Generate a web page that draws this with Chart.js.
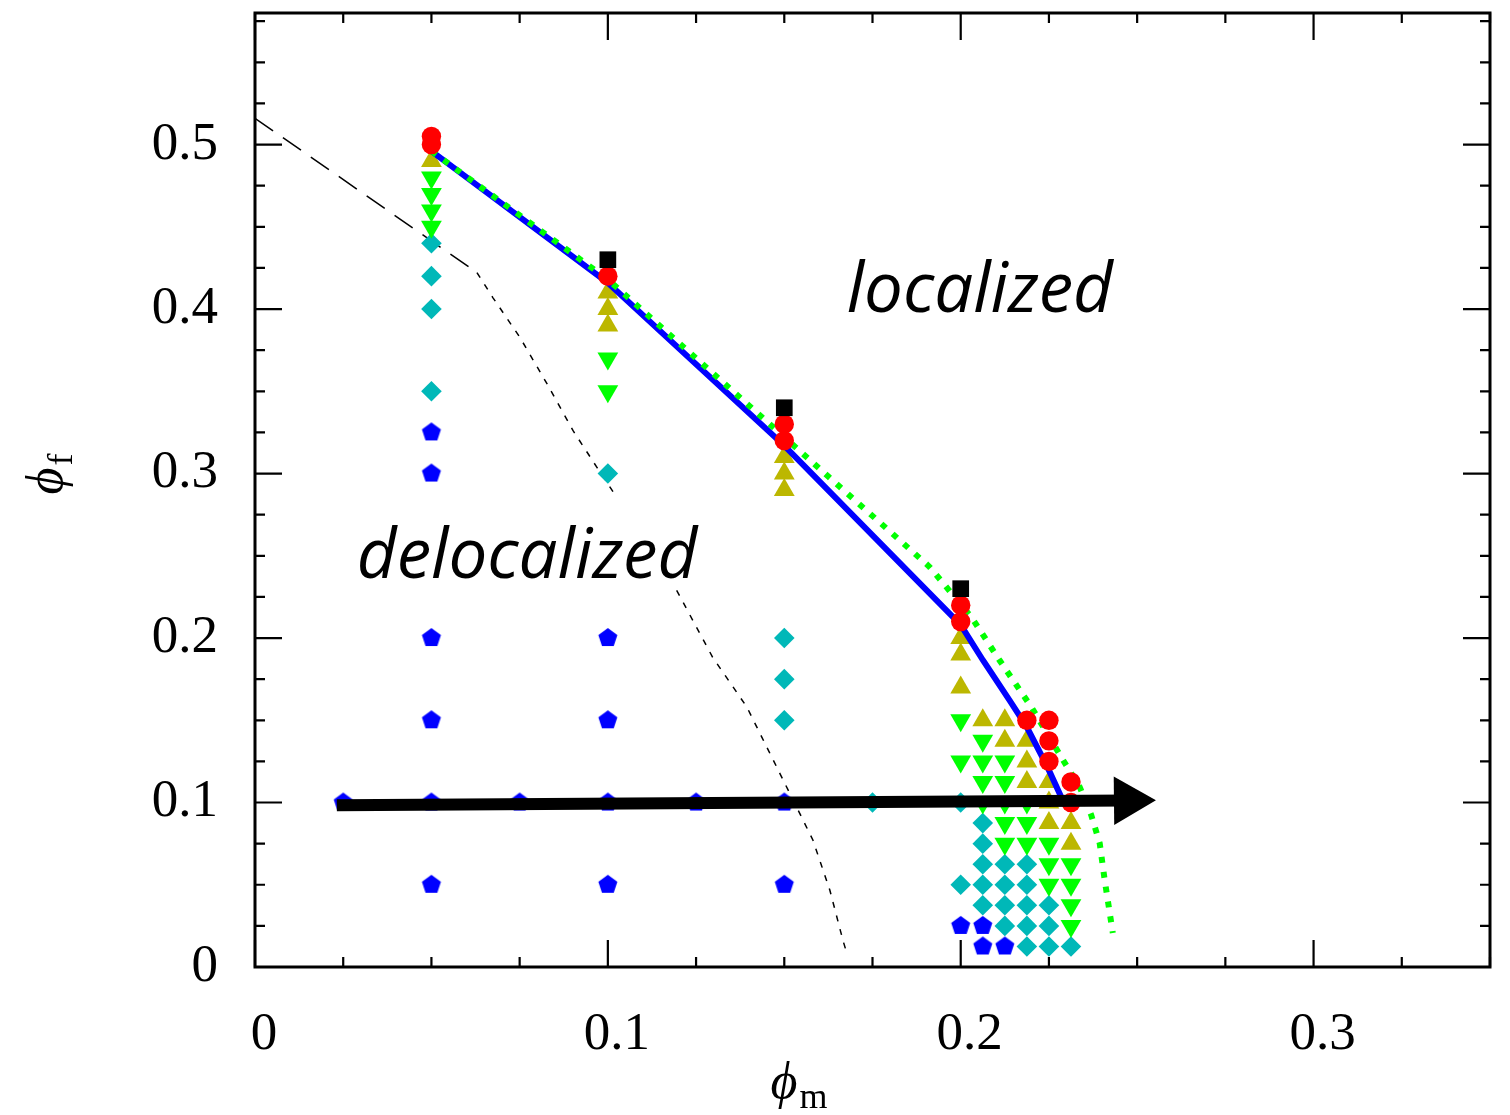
<!DOCTYPE html>
<html>
<head>
<meta charset="utf-8">
<script src="https://cdn.jsdelivr.net/npm/chart.js@4.4.1/dist/chart.umd.min.js"></script>
<style>
  html, body { margin: 0; padding: 0; background: #fff; }
  #wrap { width: 1510px; height: 1115px; }
</style>
</head>
<body>
<div id="wrap"><canvas id="phase" width="1510" height="1115"></canvas></div>
<script>
// tick labels
const xTicks = [0, 0.1, 0.2, 0.3];
const yTicks = [0, 0.1, 0.2, 0.3, 0.4, 0.5];

// black squares
const squareX = [0.1, 0.15, 0.2];
const squareY = [0.43, 0.34, 0.23];

// red circles
const circleX = [0.05, 0.05, 0.1, 0.15, 0.15, 0.2, 0.2, 0.21875, 0.225, 0.225, 0.225, 0.23125, 0.23125];
const circleY = [0.505, 0.5, 0.42, 0.33, 0.32, 0.22, 0.21, 0.15, 0.15, 0.1375, 0.125, 0.1125, 0.1];

// olive up triangles
const upX = [0.05, 0.1, 0.1, 0.1, 0.15, 0.15, 0.15, 0.2, 0.2, 0.2,
  0.20625, 0.2125, 0.2125, 0.21875, 0.21875, 0.21875,
  0.225, 0.225, 0.225, 0.23125, 0.23125];
const upY = [0.49, 0.41, 0.4, 0.39, 0.31, 0.3, 0.29, 0.2, 0.19, 0.17,
  0.15, 0.15, 0.1375, 0.1375, 0.125, 0.1125,
  0.1125, 0.1, 0.0875, 0.0875, 0.075];

// green down triangles
const downX = [0.05, 0.05, 0.05, 0.05, 0.1, 0.1, 0.2, 0.2,
  0.20625, 0.20625, 0.20625, 0.20625,
  0.2125, 0.2125, 0.2125, 0.2125, 0.2125,
  0.21875, 0.21875, 0.21875,
  0.225, 0.225, 0.225,
  0.23125, 0.23125, 0.23125, 0.23125];
const downY = [0.48, 0.47, 0.46, 0.45, 0.37, 0.35, 0.15, 0.125,
  0.1375, 0.125, 0.1125, 0.1,
  0.125, 0.1125, 0.1, 0.0875, 0.075,
  0.1, 0.0875, 0.075,
  0.075, 0.0625, 0.05,
  0.0625, 0.05, 0.0375, 0.025];

// cyan diamonds
const diamondX = [0.05, 0.05, 0.05, 0.05, 0.1, 0.15, 0.15, 0.15, 0.175, 0.2, 0.2,
  0.20625, 0.20625, 0.20625, 0.20625, 0.20625,
  0.2125, 0.2125, 0.2125, 0.2125,
  0.21875, 0.21875, 0.21875, 0.21875, 0.21875,
  0.225, 0.225, 0.225, 0.23125];
const diamondY = [0.44, 0.42, 0.4, 0.35, 0.3, 0.2, 0.175, 0.15, 0.1, 0.1, 0.05,
  0.0875, 0.075, 0.0625, 0.05, 0.0375,
  0.0625, 0.05, 0.0375, 0.025,
  0.0625, 0.05, 0.0375, 0.025, 0.0125,
  0.0375, 0.025, 0.0125, 0.0125];

// blue pentagons
const pentX = [0.05, 0.05, 0.05, 0.05, 0.05, 0.05, 0.025, 0.075, 0.1, 0.1, 0.1, 0.1, 0.125,
  0.15, 0.15, 0.2, 0.20625, 0.20625, 0.2125];
const pentY = [0.325, 0.3, 0.2, 0.15, 0.1, 0.05, 0.1, 0.1, 0.2, 0.15, 0.1, 0.05, 0.1,
  0.1, 0.05, 0.025, 0.025, 0.0125, 0.0125];

// blue boundary (solid)
const blueX = [0.05, 0.1, 0.15, 0.2, 0.2063, 0.2139, 0.2187, 0.2246, 0.2292];
const blueY = [0.496, 0.416, 0.317, 0.208, 0.1865, 0.162, 0.146, 0.1215, 0.1];

// green boundary (dotted)
const greenX = [0.05, 0.1, 0.1912, 0.203, 0.211, 0.22, 0.229, 0.2337, 0.237, 0.2394, 0.2408, 0.2431];
const greenY = [0.496, 0.418, 0.2432, 0.2128, 0.1865, 0.1581, 0.1258, 0.1095, 0.0923, 0.0751, 0.0529, 0.0207];

// black dashed estimate
const longDashX = [0, 0.0629];
const longDashY = [0.516, 0.4222];
const shortDashX = [0.0629, 0.0674, 0.0751, 0.0827, 0.0901, 0.0969, 0.1025, null,
  0.1195, 0.1297, 0.1394, 0.1487, 0.1535, 0.1581, 0.1629, 0.1666, 0.1677];
const shortDashY = [0.4222, 0.407, 0.3827, 0.3548, 0.3262, 0.3038, 0.2856, null,
  0.229, 0.1883, 0.158, 0.1179, 0.0972, 0.0772, 0.0468, 0.0164, 0.0085];

// arrow
const arrowX = [0.0232, 0.2474];
const arrowY = [0.0984, 0.1012];

const regionLabels = [
  { text: 'localized', x: 0.2054, y: 0.398 },
  { text: 'delocalized', x: 0.0771, y: 0.2363 }
];

const pts = (xs, ys) => xs.map((x, i) => ({ x: x, y: ys[i] }));

function pentagon(color, r) {
  const c = document.createElement('canvas');
  const s = Math.ceil(r * 2 + 2);
  c.width = s;
  c.height = s;
  const g = c.getContext('2d');
  g.fillStyle = color;
  g.beginPath();
  for (let k = 0; k < 5; k++) {
    const a = -Math.PI / 2 + k * 2 * Math.PI / 5;
    const px = s / 2 + r * Math.cos(a);
    const py = s / 2 + r * Math.sin(a);
    if (k) g.lineTo(px, py); else g.moveTo(px, py);
  }
  g.closePath();
  g.fill();
  return c;
}

const fmt = v => (v === 0 ? '0' : v.toFixed(1));

// no extra label padding, the plot box is pinned by layout
const noPad = s => {
  s.paddingTop = 0;
  s.paddingBottom = 0;
  s.paddingLeft = 0;
  s.paddingRight = 0;
};

// frame, inside ticks, axis titles and region labels
const decor = {
  id: 'decor',
  afterDraw(chart) {
    const { ctx, chartArea: a, scales: { x, y } } = chart;
    ctx.save();
    ctx.strokeStyle = '#000';
    ctx.lineWidth = 2.2;
    ctx.beginPath();
    for (let i = 0; i <= 14; i++) {
      const px = x.getPixelForValue(i * 0.025);
      const len = i % 4 === 0 ? 27 : 10;
      ctx.moveTo(px, a.bottom); ctx.lineTo(px, a.bottom - len);
      ctx.moveTo(px, a.top); ctx.lineTo(px, a.top + len);
    }
    for (let i = 0; i <= 23; i++) {
      const py = y.getPixelForValue(i * 0.025);
      const len = i % 4 === 0 ? 27 : 10;
      ctx.moveTo(a.left, py); ctx.lineTo(a.left + len, py);
      ctx.moveTo(a.right, py); ctx.lineTo(a.right - len, py);
    }
    ctx.stroke();
    ctx.lineWidth = 3;
    ctx.strokeRect(a.left, a.top, a.right - a.left, a.bottom - a.top);

    // region labels
    ctx.fillStyle = '#000';
    ctx.font = 'italic 69px "Open Sans", "DejaVu Sans", sans-serif';
    ctx.textAlign = 'center';
    ctx.textBaseline = 'alphabetic';
    regionLabels.forEach(l => {
      ctx.fillText(l.text, x.getPixelForValue(l.x), y.getPixelForValue(l.y));
    });

    // axis titles
    const big = 'italic 52px "Liberation Serif", "DejaVu Serif", serif';
    const small = '36px "Liberation Serif", "DejaVu Serif", serif';
    ctx.textAlign = 'left';
    ctx.font = big;
    const wPhi = ctx.measureText('\u03d5').width;
    ctx.font = small;
    const wm = ctx.measureText('m').width;
    let x0 = 798 - (wPhi + wm) / 2;
    ctx.font = big;
    ctx.fillText('\u03d5', x0, 1098);
    ctx.font = small;
    ctx.fillText('m', x0 + wPhi + 2, 1108);

    ctx.save();
    ctx.translate(62, 475);
    ctx.rotate(-Math.PI / 2);
    ctx.font = small;
    const wf = ctx.measureText('f').width;
    x0 = -(wPhi + wf) / 2;
    ctx.font = big;
    ctx.fillText('\u03d5', x0, 0);
    ctx.font = small;
    ctx.fillText('f', x0 + wPhi + 2, 10);
    ctx.restore();
    ctx.restore();
  }
};

const pent = pentagon('#0000ff', 10);

new Chart(document.getElementById('phase'), {
  type: 'scatter',
  data: {
    datasets: [
      {
        label: 'arrow',
        data: pts(arrowX, arrowY),
        showLine: true,
        borderColor: '#000',
        borderWidth: 12,
        pointRadius: [0, 28],
        pointStyle: 'triangle',
        rotation: 89.4,
        pointBackgroundColor: '#000',
        pointBorderWidth: 0
      },
      {
        label: 'squares',
        data: pts(squareX, squareY),
        pointStyle: 'rect',
        pointRadius: 11.8,
        pointBackgroundColor: '#000',
        pointBorderWidth: 0
      },
      {
        label: 'circles',
        data: pts(circleX, circleY),
        pointStyle: 'circle',
        pointRadius: 9.7,
        pointBackgroundColor: '#ff0000',
        pointBorderWidth: 0
      },
      {
        label: 'green boundary',
        data: pts(greenX, greenY),
        showLine: true,
        borderColor: '#00ff00',
        borderWidth: 6,
        borderDash: [6, 9],
        borderCapStyle: 'butt',
        pointRadius: 0
      },
      {
        label: 'blue boundary',
        data: pts(blueX, blueY),
        showLine: true,
        borderColor: '#0000ff',
        borderWidth: 6,
        pointRadius: 0
      },
      {
        label: 'up',
        data: pts(upX, upY),
        pointStyle: 'triangle',
        pointRadius: 12,
        pointBackgroundColor: '#bcb700',
        pointBorderWidth: 0
      },
      {
        label: 'down',
        data: pts(downX, downY),
        pointStyle: 'triangle',
        rotation: 180,
        pointRadius: 12,
        pointBackgroundColor: '#00ff00',
        pointBorderWidth: 0
      },
      {
        label: 'diamonds',
        data: pts(diamondX, diamondY),
        pointStyle: 'rectRot',
        pointRadius: 10.3,
        pointBackgroundColor: '#00b8b8',
        pointBorderWidth: 0
      },
      {
        label: 'pentagons',
        data: pts(pentX, pentY),
        pointStyle: pent,
        pointRadius: 10,
        pointBorderWidth: 0
      },
      {
        label: 'long dash',
        data: pts(longDashX, longDashY),
        showLine: true,
        borderColor: '#000',
        borderWidth: 1.5,
        borderDash: [22, 12],
        pointRadius: 0
      },
      {
        label: 'short dash',
        data: pts(shortDashX, shortDashY),
        showLine: true,
        spanGaps: false,
        borderColor: '#000',
        borderWidth: 1.5,
        borderDash: [6, 8],
        pointRadius: 0
      }
    ]
  },
  options: {
    responsive: false,
    animation: false,
    events: [],
    layout: { autoPadding: false, padding: { top: 13, right: 20, left: 0, bottom: 0 } },
    plugins: { legend: { display: false }, tooltip: { enabled: false } },
    scales: {
      x: {
        type: 'linear',
        min: 0,
        max: 0.35,
        grid: { display: false, drawTicks: false },
        border: { display: false },
        afterBuildTicks: s => { s.ticks = xTicks.map(v => ({ value: v })); },
        afterFit: s => { s.height = 148; noPad(s); },
        ticks: {
          autoSkip: false,
          maxRotation: 0,
          padding: 36,
          labelOffset: 9,
          color: '#000',
          font: { family: '"Liberation Serif", serif', size: 53 },
          callback: fmt
        }
      },
      y: {
        type: 'linear',
        min: 0,
        max: 0.58,
        grid: { display: false, drawTicks: false },
        border: { display: false },
        afterBuildTicks: s => { s.ticks = yTicks.map(v => ({ value: v })); },
        afterFit: s => { s.width = 255; noPad(s); },
        ticks: {
          autoSkip: false,
          padding: 37,
          color: '#000',
          font: { family: '"Liberation Serif", serif', size: 53 },
          callback: fmt
        }
      }
    }
  },
  plugins: [decor]
});
</script>
</body>
</html>
